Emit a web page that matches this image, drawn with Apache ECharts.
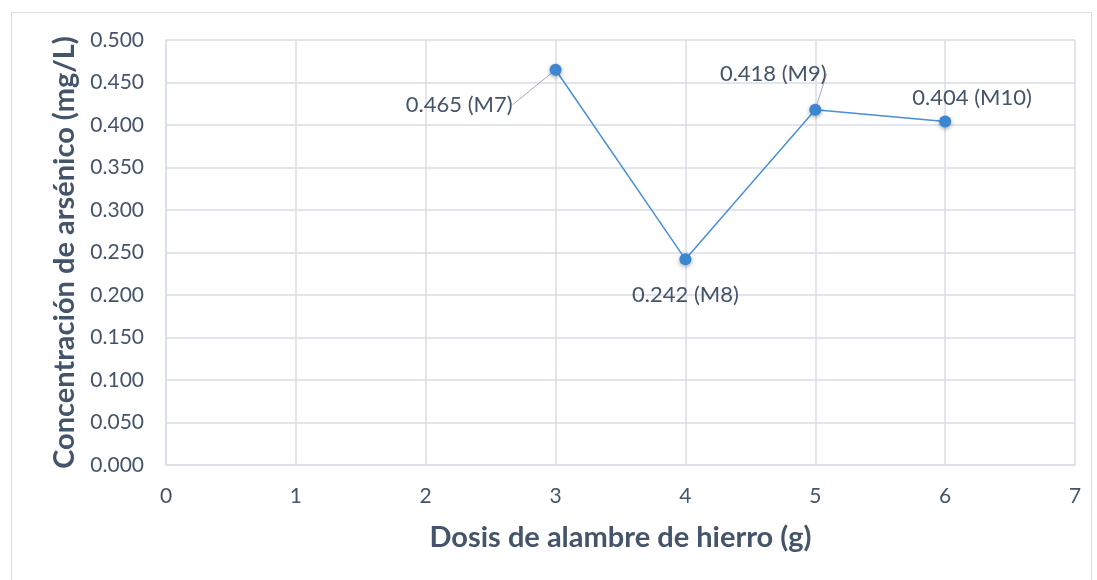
<!DOCTYPE html>
<html>
<head>
<meta charset="utf-8">
<script src="https://cdn.jsdelivr.net/npm/echarts@6/dist/echarts.min.js"></script>
<style>
html,body{margin:0;padding:0;background:#fff;}
#main{width:1097px;height:580px;}
</style>
</head>
<body>
<div id="main"></div>
<script>
// Data
var doses = [3, 4, 5, 6];
var concentrations = [0.465, 0.242, 0.418, 0.404];
var sampleNames = ['M7', 'M8', 'M9', 'M10'];
var xTitle = 'Dosis de alambre de hierro (g)';
var yTitle = 'Concentración de arsénico (mg/L)';

// Label placement (style only)
var labelStyles = [
  {position: 'left', distance: 5, dx: -32, dy: 35, line: true},
  {position: 'bottom', distance: 19, dx: 0, dy: 0, line: false},
  {position: 'top', distance: 5, dx: -42, dy: -14, line: true},
  {position: 'top', distance: 5, dx: 27, dy: -2, line: false}
];

var textColor = '#44546a';
var gridColor = '#d9dde6';
var fontFam = 'Lato, "Open Sans", sans-serif';

var seriesData = doses.map(function (d, i) {
  var s = labelStyles[i];
  return {
    value: [d, concentrations[i]],
    name: sampleNames[i],
    label: {position: s.position, distance: s.distance},
    labelLine: {show: s.line, lineStyle: {color: '#a6aab0', width: 1}}
  };
});

var chart = echarts.init(document.getElementById('main'), null, {renderer: 'canvas'});
chart.setOption({
  animation: false,
  backgroundColor: '#fff',
  graphic: [{
    type: 'rect', left: 9, top: 10, z: -10,
    shape: {width: 1080, height: 600},
    style: {fill: 'none', stroke: '#d9dde6', lineWidth: 1}
  }],
  grid: {left: 166, right: 22, top: 40, bottom: 115},
  xAxis: {
    type: 'value', min: 0, max: 7, interval: 1,
    name: xTitle, nameLocation: 'middle', nameGap: 58,
    nameTextStyle: {fontFamily: fontFam, fontSize: 29, fontWeight: 'bold', color: textColor},
    axisLine: {show: true, lineStyle: {color: gridColor, width: 1.5}},
    axisTick: {show: false},
    axisLabel: {color: textColor, fontSize: 21, fontFamily: fontFam, margin: 21},
    splitLine: {show: true, lineStyle: {color: gridColor, width: 1.5}}
  },
  yAxis: {
    type: 'value', min: 0, max: 0.5, interval: 0.05,
    name: yTitle, nameLocation: 'middle', nameGap: 86,
    nameTextStyle: {fontFamily: fontFam, fontSize: 29, fontWeight: 'bold', color: textColor},
    axisLine: {show: true, lineStyle: {color: gridColor, width: 1.5}},
    axisTick: {show: false},
    axisLabel: {color: textColor, fontSize: 21, fontFamily: fontFam, margin: 22,
      formatter: function (v) { return v.toFixed(3); }},
    splitLine: {show: true, lineStyle: {color: gridColor, width: 1.5}}
  },
  series: [{
    type: 'line',
    data: seriesData,
    symbol: 'circle',
    symbolSize: 12,
    lineStyle: {color: '#4a8fd6', width: 1.5},
    itemStyle: {color: '#3b86d1', shadowBlur: 4, shadowColor: 'rgba(0,0,0,0.35)', shadowOffsetY: 1.5},
    label: {
      show: true, color: textColor, fontSize: 22, fontFamily: fontFam,
      formatter: function (p) { return p.value[1].toFixed(3) + ' (' + p.name + ')'; }
    },
    labelLayout: function (p) {
      var s = labelStyles[p.dataIndex];
      return {dx: s.dx, dy: s.dy};
    },
    z: 5
  }]
});
</script>
</body>
</html>
